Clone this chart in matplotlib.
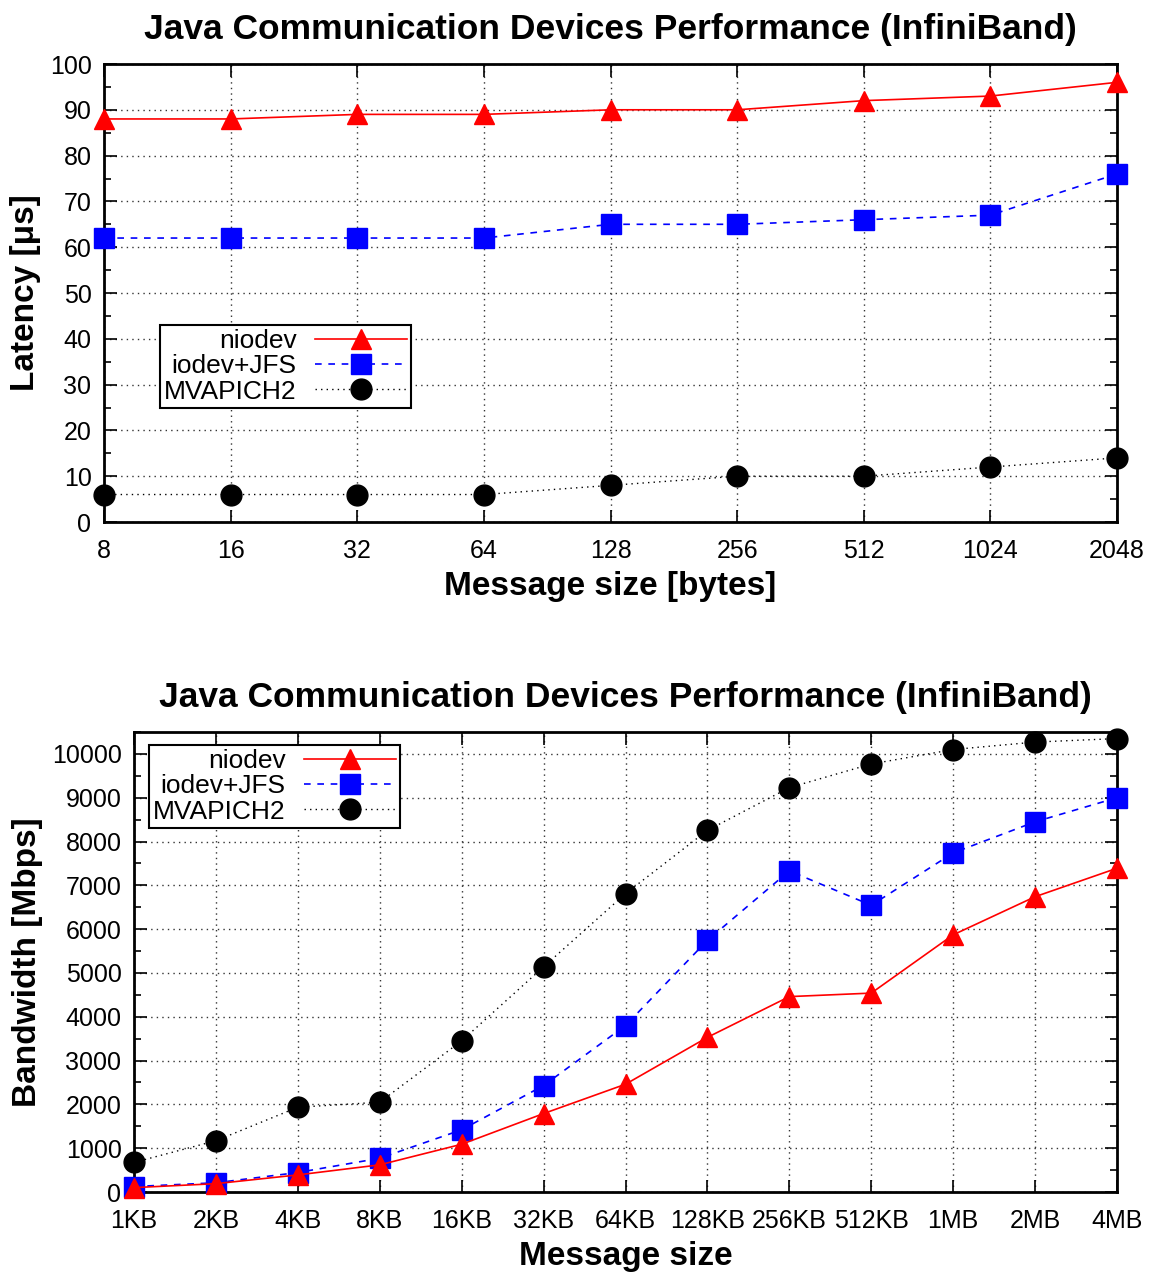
import matplotlib
matplotlib.use("Agg")
import matplotlib.pyplot as plt
from matplotlib.ticker import MultipleLocator

# Latency data (top chart)
lat_sizes = ["8", "16", "32", "64", "128", "256", "512", "1024", "2048"]
lat_niodev = [88, 88, 89, 89, 90, 90, 92, 93, 96]
lat_iodev = [62, 62, 62, 62, 65, 65, 66, 67, 76]
lat_mvapich = [6, 6, 6, 6, 8, 10, 10, 12, 14]

# Bandwidth data (bottom chart)
bw_sizes = ["1KB", "2KB", "4KB", "8KB", "16KB", "32KB", "64KB", "128KB",
            "256KB", "512KB", "1MB", "2MB", "4MB"]
bw_niodev = [100, 190, 390, 620, 1090, 1790, 2460, 3530, 4460, 4540, 5870, 6740, 7390]
bw_iodev = [125, 210, 445, 770, 1420, 2430, 3800, 5745, 7330, 6545, 7740, 8450, 9000]
bw_mvapich = [675, 1170, 1935, 2050, 3450, 5140, 6810, 8255, 9230, 9770, 10100, 10270, 10350]

plt.rcParams['font.family'] = ['Liberation Sans', 'DejaVu Sans']
font_size = 18
plt.rc('font', size=font_size)

title = "Java Communication Devices Performance (InfiniBand)"
W, H = 1156, 1272
fig = plt.figure(figsize=(W / 100, H / 100), dpi=100)


def make_axes(l, r, t, b):
    return fig.add_axes([l / W, 1 - b / H, (r - l) / W, (b - t) / H])


def style_axes(ax, n, ymax, ymajor, yminor):
    ax.set_xlim(0, n - 1)
    ax.set_ylim(0, ymax)
    ax.yaxis.set_major_locator(MultipleLocator(ymajor))
    ax.yaxis.set_minor_locator(MultipleLocator(yminor))
    ax.tick_params(which='both', direction='in', top=True, right=True, width=1.2)
    ax.tick_params(which='major', length=9, labelsize=font_size)
    ax.tick_params(axis='y', which='major', pad=9)
    ax.tick_params(axis='x', which='major', pad=12)
    ax.tick_params(which='minor', length=5)
    for sp in ax.spines.values():
        sp.set_linewidth(2)
    ax.grid(True, which='major', color='#333333', linestyle=(0, (1, 3)), linewidth=1)
    ax.set_axisbelow(True)


def draw_series(ax, x, a, b, c):
    ax.plot(x, a, color='red', lw=1.2, marker='^', ms=15, label="niodev", zorder=5, clip_on=False)
    ax.plot(x, b, color='blue', lw=1.2, ls=(0, (4, 4)), marker='s', ms=14,
            label="iodev+JFS", zorder=4, clip_on=False)
    ax.plot(x, c, color='black', lw=1, ls=(0, (1, 3)), marker='o', ms=15,
            label="MVAPICH2", zorder=3, clip_on=False)


def legend(ax, anchor):
    leg = ax.legend(loc='upper left', bbox_to_anchor=anchor, markerfirst=False,
                    frameon=True, fancybox=False, handlelength=3.5, handletextpad=0.7,
                    labelspacing=0.05, borderpad=0.15, borderaxespad=0,
                    fontsize=19, numpoints=1)
    fr = leg.get_frame()
    fr.set_edgecolor('black')
    fr.set_linewidth(1.5)
    fr.set_alpha(1)
    leg.set_zorder(10)


# Top chart: latency
ax1 = make_axes(104, 1117, 64, 522)
x1 = list(range(len(lat_sizes)))
draw_series(ax1, x1, lat_niodev, lat_iodev, lat_mvapich)
style_axes(ax1, len(lat_sizes), 100, 10, 5)
ax1.set_xticks(x1)
ax1.set_xticklabels(lat_sizes)
ax1.set_title(title, fontsize=25.5, fontweight='bold', pad=18)
ax1.set_xlabel("Message size [bytes]", fontsize=24, fontweight='bold', labelpad=6)
ax1.set_ylabel("Latency [\u03bcs]", fontsize=24, fontweight='bold', labelpad=6)
legend(ax1, ((160 - 104) / (1117 - 104), (522 - 325) / (522 - 64)))

# Bottom chart: bandwidth
ax2 = make_axes(134, 1117, 732, 1192)
x2 = list(range(len(bw_sizes)))
draw_series(ax2, x2, bw_niodev, bw_iodev, bw_mvapich)
style_axes(ax2, len(bw_sizes), 10500, 1000, 500)
ax2.set_xticks(x2)
ax2.set_xticklabels(bw_sizes)
ax2.set_title(title, fontsize=25.5, fontweight='bold', pad=18)
ax2.set_xlabel("Message size", fontsize=24, fontweight='bold', labelpad=6)
ax2.set_ylabel("Bandwidth [Mbps]", fontsize=24, fontweight='bold', labelpad=6)
legend(ax2, ((149 - 134) / (1117 - 134), (1192 - 745) / (1192 - 732)))

fig.savefig("out.png", dpi=100)
